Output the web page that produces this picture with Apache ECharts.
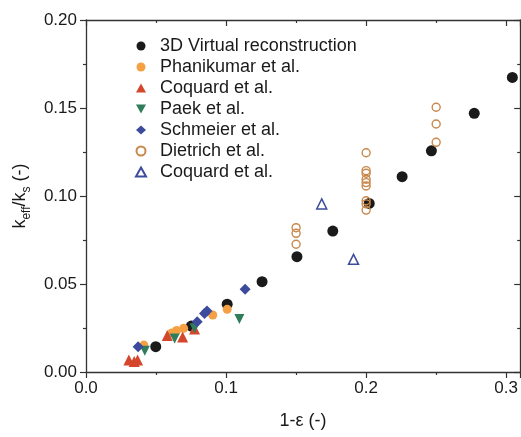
<!DOCTYPE html>
<html><head><meta charset="utf-8">
<script src="https://cdn.jsdelivr.net/npm/echarts@6/dist/echarts.min.js"></script>
<style>html,body{margin:0;padding:0;background:#fff}#c{width:521px;height:437px}</style>
</head><body><div id="c"></div>
<script>
const virtual3D = [[0.0498,0.0144],[0.0752,0.0261],[0.1008,0.0385],[0.1257,0.0513],[0.1506,0.0655],[0.1762,0.0801],[0.2022,0.0958],[0.2257,0.111],[0.2466,0.1257],[0.2772,0.147],[0.3044,0.1674]];
const phanikumar = [[0.0413,0.0153],[0.0612,0.0222],[0.0647,0.0236],[0.0697,0.0248],[0.0905,0.0324],[0.1008,0.0356]];
const coquardFilled = [[0.0306,0.0068],[0.0344,0.0059],[0.0368,0.0068],[0.058,0.0207],[0.069,0.0199],[0.0775,0.0244]];
const paek = [[0.042,0.0121],[0.0633,0.0191],[0.0775,0.0248],[0.1095,0.0301]];
const schmeier = [[0.0372,0.0144],[0.0794,0.0286],[0.0846,0.0332],[0.0864,0.0347],[0.1136,0.047]];
const dietrich = [[0.15,0.082],[0.15,0.0788],[0.15,0.0726],
  [0.2,0.1246],[0.2,0.1144],[0.2,0.1129],[0.2,0.1095],[0.2,0.1076],[0.2,0.1057],[0.2,0.0973],[0.2,0.0955],[0.2,0.092],
  [0.25,0.1504],[0.25,0.1409],[0.25,0.1305]];
const coquardOpen = [[0.1683,0.0955],[0.191,0.064]];
const seriesNames = ['3D Virtual reconstruction','Phanikumar et al.','Coquard et al.','Paek et al.','Schmeier et al.','Dietrich et al.','Coquard et al. '];
const xTicks = [0, 0.1, 0.2, 0.3];
const yTicks = [0, 0.05, 0.10, 0.15, 0.20];

const FONT = 'Liberation Sans, Arial, sans-serif';
const TXT = '#1a1a1a';
const AX = '#333';

const chart = echarts.init(document.getElementById('c'), null, {renderer:'canvas'});
function sc(name, data, symbol, size, style){
  return {name, type:'scatter', data, symbol, symbolSize:size, itemStyle:Object.assign({opacity:1}, style), xAxisIndex:0, yAxisIndex:0, emphasis:{disabled:true}};
}
const baseAxisX = {
  type:'value', min:0, max:0.31, interval:0.1,
  axisLine:{show:true, onZero:false, lineStyle:{color:AX, width:1.3}},
  splitLine:{show:false},
  minorTick:{show:true, splitNumber:2, length:3, lineStyle:{color:AX, width:1.2}},
};
const baseAxisY = {
  type:'value', min:0, max:0.2, interval:0.05,
  axisLine:{show:true, onZero:false, lineStyle:{color:AX, width:1.3}},
  splitLine:{show:false},
  minorTick:{show:true, splitNumber:2, length:3, lineStyle:{color:AX, width:1.2}},
};
chart.setOption({
  animation:false,
  backgroundColor:'#fff',
  textStyle:{fontFamily:FONT},
  grid:{left:86, top:20, right:-1, bottom:65, containLabel:false},
  legend:{
    orient:'vertical', left:130, top:32, itemWidth:10, itemHeight:9, itemGap:3,
    data:seriesNames,
    textStyle:{fontFamily:FONT, fontSize:18, color:TXT, padding:[0,0,0,9], lineHeight:18},
    selectedMode:false
  },
  xAxis:[
    Object.assign({}, baseAxisX, {
      position:'bottom',
      name:'1-ε (-)', nameLocation:'middle', nameGap:40,
      nameTextStyle:{fontFamily:FONT, fontSize:18, color:TXT},
      axisTick:{show:true, inside:false, length:6, lineStyle:{color:AX, width:1.2}},
      axisLabel:{show:true, showMaxLabel:false, margin:8, fontFamily:FONT, fontSize:17, color:TXT,
        formatter:v => xTicks.some(t=>Math.abs(t-v)<1e-9) ? v.toFixed(1) : ''}
    }),
    Object.assign({}, baseAxisX, {
      position:'top',
      axisTick:{show:true, inside:true, length:6, lineStyle:{color:AX, width:1.2}},
      minorTick:{show:true, splitNumber:2, length:3, lineStyle:{color:AX, width:1.2}},
      axisLabel:{show:false}
    })
  ],
  yAxis:[
    Object.assign({}, baseAxisY, {
      position:'left',
      name:'{t|k}{s|eff}{t|/k}{s|s}{t| (-)}', nameLocation:'middle', nameGap:57, nameRotate:90,
      nameTextStyle:{fontFamily:FONT, color:TXT, rich:{
        t:{fontFamily:FONT, fontSize:18, color:TXT, verticalAlign:'bottom'},
        s:{fontFamily:FONT, fontSize:12, color:TXT, verticalAlign:'bottom', padding:[0,0,-4,0]}
      }},
      axisTick:{show:true, inside:false, length:6, lineStyle:{color:AX, width:1.2}},
      axisLabel:{show:true, margin:9, fontFamily:FONT, fontSize:17, color:TXT,
        formatter:v => yTicks.some(t=>Math.abs(t-v)<1e-9) ? v.toFixed(2) : ''}
    }),
    Object.assign({}, baseAxisY, {
      position:'right',
      axisTick:{show:true, inside:true, length:6, lineStyle:{color:AX, width:1.2}},
      axisLabel:{show:false}
    })
  ],
  series:[
    sc(seriesNames[0], virtual3D, 'circle', 11, {color:'#1a1a1a'}),
    sc(seriesNames[1], phanikumar, 'circle', 9, {color:'#f4a043'}),
    sc(seriesNames[2], coquardFilled, 'triangle', 11, {color:'#d4472c'}),
    sc(seriesNames[3], paek, 'path://M0,0 L10,0 L5,9 Z', 10, {color:'#2f7d5a'}),
    sc(seriesNames[4], schmeier, 'diamond', 11, {color:'#3d4b9c'}),
    sc(seriesNames[5], dietrich, 'circle', 8, {color:'rgba(255,255,255,0)', borderColor:'#c8874c', borderWidth:1.4}),
    sc(seriesNames[6], coquardOpen, 'triangle', 10, {color:'rgba(255,255,255,0)', borderColor:'#3d4b9c', borderWidth:1.5})
  ]
});
</script></body></html>
